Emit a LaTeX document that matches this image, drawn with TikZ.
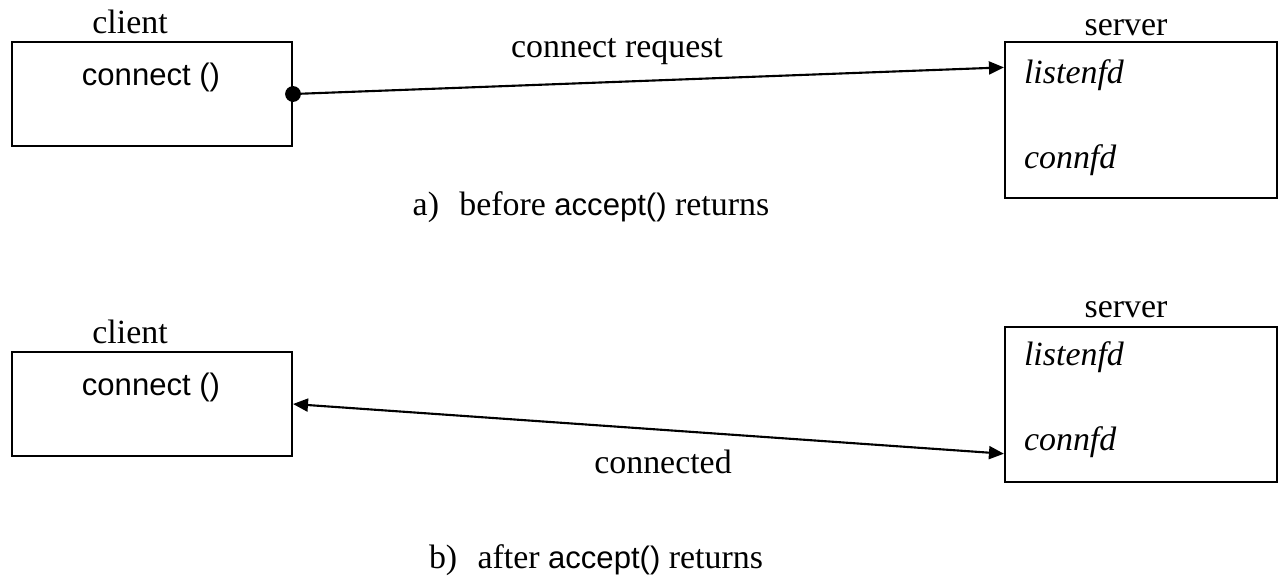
\documentclass[tikz,border=0pt]{standalone}
\usepackage{fontspec}
\setmainfont{Liberation Serif}
\setsansfont{Liberation Sans}
\usetikzlibrary{arrows.meta,calc}

\begin{document}
\begin{tikzpicture}[
    x=0.354pt, y=-0.354pt,
    line width=0.75pt,
    clientbox/.style={rectangle, draw, inner sep=0pt, minimum width=99.1pt, minimum height=36.8pt},
    serverbox/.style={rectangle, draw, inner sep=0pt, minimum width=96.3pt, minimum height=55pt},
    title/.style={inner sep=0pt, anchor=base, font=\fontsize{12}{14}\selectfont},
    call/.style={inner sep=0pt, anchor=base, font=\sffamily\fontsize{11}{13}\selectfont},
    fd/.style={inner sep=0pt, anchor=base west, font=\itshape\fontsize{12}{14}\selectfont},
    arrow/.style={-{Triangle[length=5.3pt,width=4.6pt]}},
    twoarrow/.style={{Triangle[length=5.3pt,width=4.6pt]}-{Triangle[length=5.3pt,width=4.6pt]}}
]
\useasboundingbox (0,0) rectangle (1278,584);

% a) before accept() returns
\node[title] (cl1) at (130,33) {client};
\node[clientbox] (cli1) at (152,94) {};
\node[call] (con1) at (151,85) {connect ()};

\node[title] (sv1) at (1126,35) {server};
\node[serverbox, minimum height=55.2pt] (srv1) at (1141,120) {};
\node[fd] (lst1) at (1023,83) {listenfd};
\node[fd] (cfd1) at (1023,168) {connfd};

\fill (cli1.east) circle[radius=2.8pt];
\draw[arrow] (cli1.east) -- ($(srv1.north west)!0.167!(srv1.south west)$);
\node[title] (req) at (617,57) {connect request};

\node[title] (capa) at (591,215) {a)\hspace{0.6em}before \textsf{\fontsize{11}{13}\selectfont accept()} returns};

% b) after accept() returns
\node[title] (cl2) at (130,343) {client};
\node[clientbox] (cli2) at (152,404) {};
\node[call] (con2) at (151,395) {connect ()};

\node[title] (sv2) at (1126,317) {server};
\node[serverbox, minimum height=54.9pt] (srv2) at (1141,404.5) {};
\node[fd] (lst2) at (1023,365) {listenfd};
\node[fd] (cfd2) at (1023,450) {connfd};

\draw[twoarrow] (cli2.east) -- ($(srv2.north west)!0.813!(srv2.south west)$);
\node[title] (cnd) at (663,473) {connected};

\node[title] (capb) at (596,568) {b)\hspace{0.6em}after \textsf{\fontsize{11}{13}\selectfont accept()} returns};

\end{tikzpicture}
\end{document}
